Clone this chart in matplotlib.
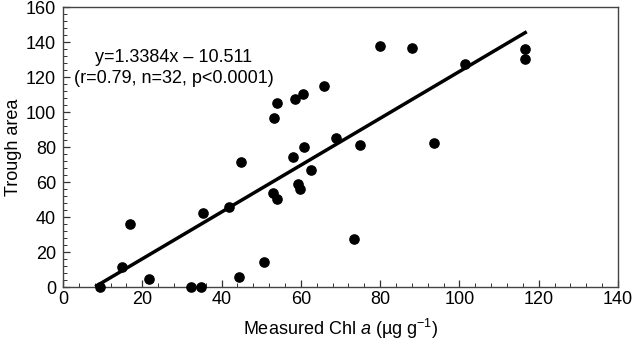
import matplotlib
matplotlib.use("Agg")
import matplotlib.pyplot as plt
import numpy as np
from matplotlib.ticker import MultipleLocator

plt.rcParams['font.family'] = ['Liberation Sans', 'DejaVu Sans']
plt.rcParams['mathtext.fontset'] = 'custom'
plt.rcParams['mathtext.rm'] = 'Liberation Sans'
plt.rcParams['mathtext.it'] = 'Liberation Sans:italic'

# measured Chl a vs trough area
chl = [9.3, 14.8, 17.0, 21.8, 32.2, 34.8, 35.3, 41.8, 44.4, 44.9, 50.8,
       53.0, 54.0, 53.3, 54.0, 58.1, 58.4, 60.5, 60.7, 59.3, 59.7, 62.6,
       65.8, 68.9, 74.8, 73.5, 80.0, 88.0, 93.7, 101.4, 116.6, 116.6]
trough = [0.0, 11.8, 36.3, 4.6, 0.0, 0.0, 42.3, 45.9, 5.9, 71.4, 14.6,
          54.1, 50.3, 96.7, 105.5, 74.3, 107.6, 110.6, 80.2, 59.0, 56.2, 67.0,
          115.0, 85.3, 81.5, 27.8, 137.7, 136.9, 82.3, 127.6, 136.0, 130.3]

slope = 1.3384
intercept = -10.511

fig = plt.figure(figsize=(6.33, 3.40), dpi=100)
ax = fig.add_axes([0.0995, 0.155, 0.8768, 0.8235])

ax.scatter(chl, trough, s=44, color='black', zorder=3, clip_on=False)
xl = np.array([min(chl) - 0.8, max(chl)])
ax.plot(xl, slope * xl + intercept, color='black', lw=2.5, zorder=2)

ax.text(28, 131.5, "y=1.3384x \u2013 10.511", ha='center', va='center', fontsize=13)
ax.text(28, 119.5, "(r=0.79, n=32, p<0.0001)", ha='center', va='center', fontsize=13)

ax.set_xlim(0, 140)
ax.set_ylim(0, 160)
ax.xaxis.set_major_locator(MultipleLocator(20))
ax.yaxis.set_major_locator(MultipleLocator(20))
ax.xaxis.set_minor_locator(MultipleLocator(4))
ax.yaxis.set_minor_locator(MultipleLocator(4))
ax.tick_params(which='both', direction='in', top=False, right=False,
               labelsize=13, color='#333333')
ax.tick_params(which='major', length=5, width=0.9)
ax.tick_params(which='minor', length=3, width=0.7)
ax.tick_params(axis='x', which='major', pad=3)
ax.tick_params(axis='y', which='major', pad=5)
for sp in ax.spines.values():
    sp.set_color('#444444')
    sp.set_linewidth(1.0)

ax.set_xlabel("Measured Chl $\\mathit{a}$ (\u00b5g g$^{\\mathregular{\u22121}}$)",
              fontsize=13, labelpad=6)
ax.set_ylabel("Trough area", fontsize=13, labelpad=3)

fig.savefig("out.png", dpi=100)
